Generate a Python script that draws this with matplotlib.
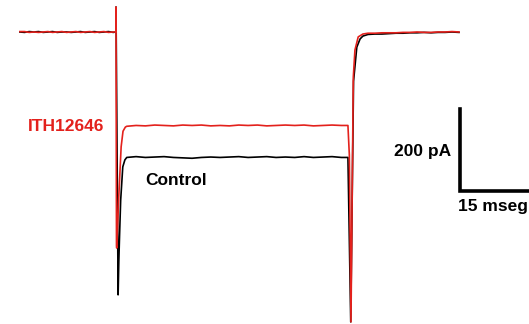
import matplotlib
matplotlib.use('Agg')
import matplotlib.pyplot as plt
from matplotlib import rcParams

rcParams['font.family'] = ['Liberation Sans', 'DejaVu Sans']
rcParams['font.weight'] = 'bold'

RED = '#e3211c'

# time in ms (pulse starts at 0, lasts 50 ms), current in pA
pre_t = [-20.6, -19.6, -18.6, -17.6, -16.6, -15.6, -14.6, -13.6, -12.6, -11.6, -10.6,
         -9.6, -8.6, -7.6, -6.6, -5.6, -4.6, -3.6, -2.6, -1.6, -0.6, 0.0]
red_pre = [1, 1, -1, 0, -1, 0, 1, -1, 0, 1, -1, 0, 1, -1, 0, 1, -1, 0, 1, -1, 0, 0]
black_pre = [0, -1, 1, 0, 1, -1, 0, 1, -1, 0, 0, -1, 0, 1, -1, 0, 1, -1, 0, 1, -1, 0]

red_on_t = [0.0, 0.1, 0.15, 0.6, 1.1, 1.5, 2.0]
red_on = [61, -520, -527, -400, -280, -242, -232]
black_on_t = [0.0, 0.45, 0.6, 0.75, 1.0, 1.45, 1.9]
black_on = [61, -641, -560, -500, -410, -329, -312]

plat_t = [2.3, 4.3, 6.3, 8.3, 10.3, 12.3, 14.3, 16.3, 18.3, 20.3, 22.3, 24.3, 26.3,
          28.3, 30.3, 32.3, 34.3, 36.3, 38.3, 40.3, 42.3, 44.3, 46.3, 48.3, 49.7]
red_plat = [-230, -228, -229, -227, -228, -229, -227, -228, -227, -229, -228, -229, -227,
            -228, -227, -229, -228, -227, -228, -227, -229, -228, -227, -228, -228]
black_plat = [-306, -304, -306, -305, -304, -306, -307, -308, -306, -305, -306, -305, -304,
              -306, -305, -304, -306, -305, -306, -304, -306, -305, -304, -306, -306]

red_off_t = [50.0, 50.35, 50.85, 51.2, 51.9, 52.9]
red_off = [-300, -707, -110, -44, -12, -5]
black_off_t = [50.3, 50.9, 51.6, 52.3, 52.9]
black_off = [-707, -120, -37, -17, -10]

post_t = [54.0, 55.5, 57.0, 58.5, 60.0, 61.5, 63.0, 64.5, 66.0, 67.5, 69.0, 70.5, 72.0, 73.5]
red_post = [-3, -3, -2, -2, -2, -1, -1, 0, -1, -1, 0, 0, 1, 0]
black_post = [-6, -5, -5, -4, -3, -3, -2, -2, -1, -2, -1, -1, 0, -1]

bar_t = [73.7, 73.7, 88.7]
bar_i = [-188.5, -388.5, -388.5]

fig = plt.figure(figsize=(5.29, 3.24), dpi=100)
ax = fig.add_axes([0, 0, 1, 1])

black_t = pre_t + black_on_t + plat_t + black_off_t + post_t
black_i = black_pre + black_on + black_plat + black_off + black_post
red_t = pre_t + red_on_t + plat_t + red_off_t + post_t
red_i = red_pre + red_on + red_plat + red_off + red_post

ax.plot(black_t, black_i, color='black', lw=1.2)
ax.plot(red_t, red_i, color=RED, lw=1.2)

ax.plot(bar_t, bar_i, color='black', lw=2.6, solid_joinstyle='miter')

ax.text(-2.6, -241, 'ITH12646', color=RED, fontsize=12.5, ha='right', va='baseline')
ax.text(6.2, -373, 'Control', color='black', fontsize=12.5, ha='left', va='baseline')
ax.text(71.8, -302, '200 pA', color='black', fontsize=12.5, ha='right', va='baseline')
ax.text(73.3, -437, '15 mseg', color='black', fontsize=12.5, ha='left', va='baseline')

ax.set_xlim(-24.86, 88.5)
ax.set_ylim(-712.2, 78.0)
ax.axis('off')

fig.savefig('out.png', dpi=100)
